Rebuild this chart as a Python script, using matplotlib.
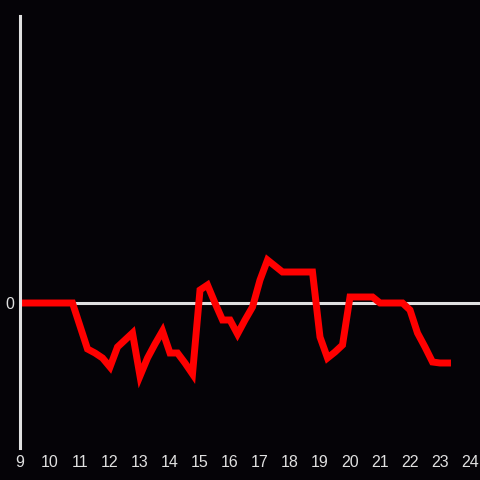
import matplotlib
matplotlib.use("Agg")
import matplotlib.pyplot as plt
import numpy as np

# 15-minute readings from 9:00 to 23:15
start_hour = 9.0
step_hours = 0.25
values = [
    0, 0, 0, 0, 0, 0, 0, 0,            # 9:00 - 10:45
    -2.3, -4.6, -5.0, -5.5,            # 11:00 - 11:45
    -6.4, -4.4, -3.7, -3.0,            # 12:00 - 12:45
    -7.3, -5.5, -4.1, -2.8,            # 13:00 - 13:45
    -5.0, -5.0, -6.0, -7.1,            # 14:00 - 14:45
    1.3, 1.8, 0.0, -1.7,               # 15:00 - 15:45
    -1.7, -3.1, -1.7, -0.4,            # 16:00 - 16:45
    2.3, 4.3, 3.7, 3.1,                # 17:00 - 17:45
    3.1, 3.1, 3.1, 3.1,                # 18:00 - 18:45
    -3.4, -5.5, -4.9, -4.2,            # 19:00 - 19:45
    0.6, 0.6, 0.6, 0.6,                # 20:00 - 20:45
    0, 0, 0, 0,                        # 21:00 - 21:45
    -0.7, -3.0, -4.4, -5.9,            # 22:00 - 22:45
    -6.0, -6.0,                        # 23:00 - 23:15
]
hours = start_hour + step_hours * np.arange(len(values))

x_ticks = list(range(9, 25))
y_ticks = [0]

bg = "#050307"
fg = "#e0e0e0"

plt.rcParams['font.family'] = ['Liberation Sans', 'DejaVu Sans']

fig = plt.figure(figsize=(4.8, 4.8), dpi=100, facecolor=bg)
ax = fig.add_axes([20 / 480, 32 / 480, 460 / 480, 432 / 480], facecolor=bg)

ax.axhline(0, color=fg, linewidth=2.2, zorder=1)
ax.plot(hours, values, color="#ff0000", linewidth=5, solid_joinstyle="miter", zorder=2)

ax.set_xlim(9, 9 + 460 / 30)
ax.set_ylim(-14.5, 28.7)
ax.set_xticks(x_ticks)
ax.set_yticks(y_ticks)
ax.tick_params(colors=fg, length=0, labelsize=11.5, pad=5)
ax.tick_params(axis="y", pad=4)

for side in ["top", "right", "bottom"]:
    ax.spines[side].set_visible(False)
ax.spines["left"].set_color(fg)
ax.spines["left"].set_linewidth(2.2)

fig.savefig("out.png", dpi=100, facecolor=bg)
